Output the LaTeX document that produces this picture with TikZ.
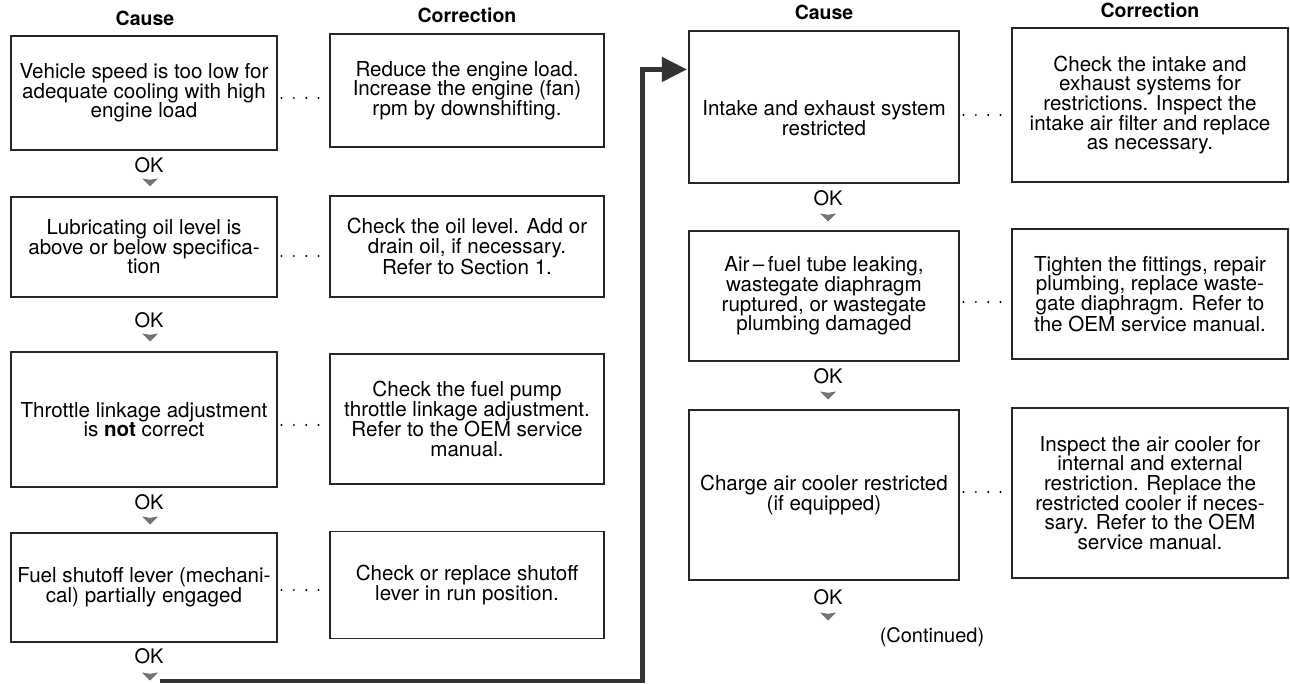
\documentclass[tikz,border=0pt]{standalone}
\usepackage{fontspec}
\setmainfont{TeX Gyre Heros}
\usetikzlibrary{arrows.meta,calc}

\begin{document}
\begin{tikzpicture}[x=1pt,y=1pt,yscale=-1,
  boxtext/.style={align=center,inner sep=0pt,font=\fontsize{20.6}{19.6}\selectfont},
  box/.style={boxtext,draw=black!85,line width=1.1pt},
  head/.style={inner sep=0pt,font=\fontsize{19.5}{20}\selectfont\bfseries},
  oklabel/.style={inner sep=0pt,font=\fontsize{20}{20}\selectfont},
  leader/.style={line width=2.2pt,line cap=round,dash pattern=on 0pt off 12.3pt,shorten <=4pt,shorten >=11pt},
  flowline/.style={draw=black!80,line width=4.5pt,-{Triangle[length=25pt,width=24pt]},shorten >=1.5pt},
  okmark/.pic={\fill[black!55] (-8,3.5) -- (0,2.2) -- (8,3.5) -- (0,-4.5) -- cycle;}
]
\useasboundingbox (0,0) rectangle (1290,684);

% Text Node
\node[head] (causeL) at (145,18) {Cause};
% Text Node
\node[head] (fixL) at (467,15) {Correction};
% Text Node
\node[head] (causeR) at (824,12) {Cause};
% Text Node
\node[head] (fixR) at (1150,10) {Correction};

%Shape: Rectangle [id:cause1]
\node[box,minimum width=266,minimum height=114] (cause1) at (144,93) {Vehicle speed is too low for\\adequate cooling with high\\engine load};
%Shape: Rectangle [id:fix1]
\node[box,minimum width=274,minimum height=113] (fix1) at (467,90.5) {Reduce the engine load.\\Increase the engine (fan)\\rpm by downshifting.};
%Shape: Rectangle [id:cause2]
\node[box,minimum width=266,minimum height=100] (cause2) at (144,247) {Lubricating oil level is\\above or below specifica-\\tion};
%Shape: Rectangle [id:fix2]
\node[box,minimum width=274,minimum height=101] (fix2) at (467,246.5) {Check the oil level. Add or\\drain oil, if necessary.\\Refer to Section 1.};
%Shape: Rectangle [id:cause3]
\node[box,minimum width=266,minimum height=135] (cause3) at (144,419.5) {Throttle linkage adjustment\\is \textbf{not} correct};
%Shape: Rectangle [id:fix3]
\node[box,minimum width=274,minimum height=130] (fix3) at (467,419) {Check the fuel pump\\throttle linkage adjustment.\\Refer to the OEM service\\manual.};
%Shape: Rectangle [id:cause4]
\node[box,minimum width=266,minimum height=109] (cause4) at (144,587.5) {Fuel shutoff lever (mechani-\\cal) partially engaged};
%Shape: Rectangle [id:fix4]
\node[box,minimum width=274,minimum height=107] (fix4) at (467,585) {Check or replace shutoff\\lever in run position.};

%Shape: Rectangle [id:cause5]
\node[box,minimum width=270,minimum height=152] (cause5) at (824,107) {};
% Text Node
\node[boxtext] (cause5txt) at (824,118) {Intake and exhaust system\\restricted};
%Shape: Rectangle [id:fix5]
\node[box,minimum width=276,minimum height=154] (fix5) at (1150,105) {Check the intake and\\exhaust systems for\\restrictions. Inspect the\\intake air filter and replace\\as necessary.};
%Shape: Rectangle [id:cause6]
\node[box,minimum width=270,minimum height=130] (cause6) at (824,296) {Air\,--\,fuel tube leaking,\\wastegate diaphragm\\ruptured, or wastegate\\plumbing damaged};
%Shape: Rectangle [id:fix6]
\node[box,minimum width=276,minimum height=130] (fix6) at (1150,294) {Tighten the fittings, repair\\plumbing, replace waste-\\gate diaphragm. Refer to\\the OEM service manual.};
%Shape: Rectangle [id:cause7]
\node[box,minimum width=270,minimum height=170] (cause7) at (824,495) {Charge air cooler restricted\\(if equipped)};
%Shape: Rectangle [id:fix7]
\node[box,minimum width=276,minimum height=170] (fix7) at (1150,493) {Inspect the air cooler for\\internal and external\\restriction. Replace the\\restricted cooler if neces-\\sary. Refer to the OEM\\service manual.};

% dotted leaders
\draw[leader] ($(cause1.east)+(0,5)$) -- ($(cause1.east -| fix1.west)+(0,5)$);
\draw[leader] ($(cause2.east)+(0,9)$) -- ($(cause2.east -| fix2.west)+(0,9)$);
\draw[leader] ($(cause3.east)+(0,5.5)$) -- ($(cause3.east -| fix3.west)+(0,5.5)$);
\draw[leader] ($(cause4.east)+(0,2.5)$) -- ($(cause4.east -| fix4.west)+(0,2.5)$);
\draw[leader] ($(cause5.east)+(0,8)$) -- ($(cause5.east -| fix5.west)+(0,8)$);
\draw[leader] ($(cause6.east)+(0,6)$) -- ($(cause6.east -| fix6.west)+(0,6)$);
\draw[leader] ($(cause7.east)+(0,-3)$) -- ($(cause7.east -| fix7.west)+(0,-3)$);

% Text Node
\node[oklabel] (ok1) at (149,165) {OK};
\pic at (150,182) {okmark};
% Text Node
\node[oklabel] (ok2) at (149,320) {OK};
\pic at (150,337) {okmark};
% Text Node
\node[oklabel] (ok3) at (149,502) {OK};
\pic at (150,520) {okmark};
% Text Node
\node[oklabel] (ok4) at (149,656) {OK};
\pic at (150,676) {okmark};
% Text Node
\node[oklabel] (ok5) at (828,198) {OK};
\pic at (828,217) {okmark};
% Text Node
\node[oklabel] (ok6) at (828,376) {OK};
\pic at (828,395) {okmark};
% Text Node
\node[oklabel] (ok7) at (828,597) {OK};
\pic at (828,616) {okmark};
% Text Node
\node[oklabel] (cont) at (932,637) {(Continued)};

% carry-over to the second column
\coordinate (flowstart) at (160,681);
\coordinate (flowcorner) at (642.5,681);
\draw[flowline] (flowstart) -- (flowcorner) |- ($(cause5.north west)+(0,39)$);

\end{tikzpicture}
\end{document}
